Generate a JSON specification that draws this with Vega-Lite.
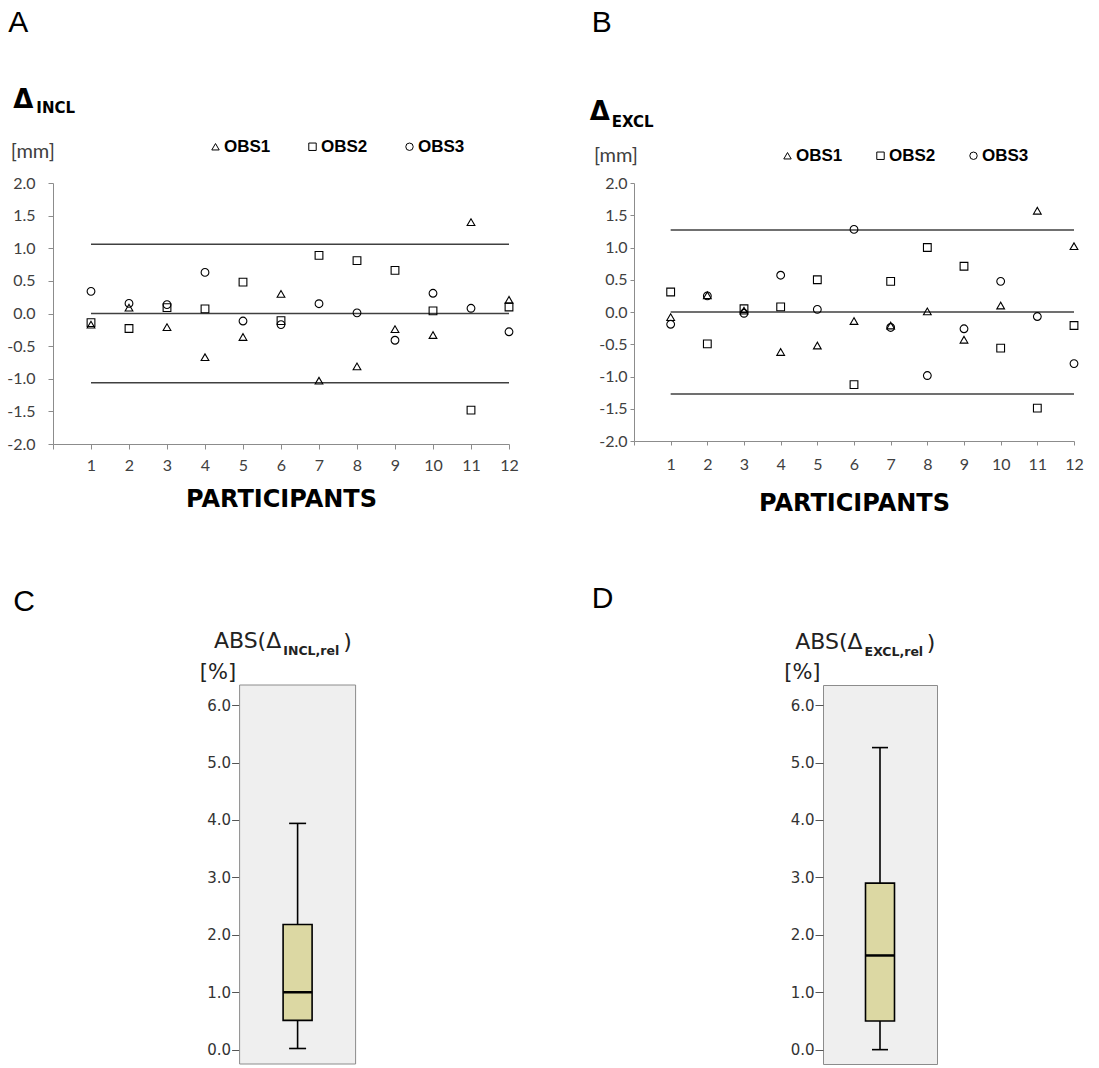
{
  "$schema": "https://vega.github.io/schema/vega-lite/v6.json",
  "background": "white",
  "padding": {"left": 6, "top": 7, "right": 0, "bottom": 0},
  "bounds": "full",
  "spacing": 68,
  "resolve": {"scale": {"shape": "independent"}, "legend": {"shape": "independent"}},
  "config": {
    "view": {"stroke": null},
    "axis": {"grid": false, "labelOverlap": false},
    "text": {"font": "Liberation Sans", "color": "black"}
  },
  "datasets": {
    "incl": [
      {"participant": 1, "observer": "OBS1", "delta": -0.17},
      {"participant": 1, "observer": "OBS2", "delta": -0.14},
      {"participant": 1, "observer": "OBS3", "delta": 0.34},
      {"participant": 2, "observer": "OBS1", "delta": 0.09},
      {"participant": 2, "observer": "OBS2", "delta": -0.23},
      {"participant": 2, "observer": "OBS3", "delta": 0.155},
      {"participant": 3, "observer": "OBS1", "delta": -0.21},
      {"participant": 3, "observer": "OBS2", "delta": 0.09},
      {"participant": 3, "observer": "OBS3", "delta": 0.135},
      {"participant": 4, "observer": "OBS1", "delta": -0.67},
      {"participant": 4, "observer": "OBS2", "delta": 0.07},
      {"participant": 4, "observer": "OBS3", "delta": 0.63},
      {"participant": 5, "observer": "OBS1", "delta": -0.36},
      {"participant": 5, "observer": "OBS2", "delta": 0.48},
      {"participant": 5, "observer": "OBS3", "delta": -0.115},
      {"participant": 6, "observer": "OBS1", "delta": 0.3},
      {"participant": 6, "observer": "OBS2", "delta": -0.11},
      {"participant": 6, "observer": "OBS3", "delta": -0.17},
      {"participant": 7, "observer": "OBS1", "delta": -1.03},
      {"participant": 7, "observer": "OBS2", "delta": 0.89},
      {"participant": 7, "observer": "OBS3", "delta": 0.15},
      {"participant": 8, "observer": "OBS1", "delta": -0.81},
      {"participant": 8, "observer": "OBS2", "delta": 0.81},
      {"participant": 8, "observer": "OBS3", "delta": 0.01},
      {"participant": 9, "observer": "OBS1", "delta": -0.24},
      {"participant": 9, "observer": "OBS2", "delta": 0.66},
      {"participant": 9, "observer": "OBS3", "delta": -0.41},
      {"participant": 10, "observer": "OBS1", "delta": -0.33},
      {"participant": 10, "observer": "OBS2", "delta": 0.04},
      {"participant": 10, "observer": "OBS3", "delta": 0.31},
      {"participant": 11, "observer": "OBS1", "delta": 1.4},
      {"participant": 11, "observer": "OBS2", "delta": -1.48},
      {"participant": 11, "observer": "OBS3", "delta": 0.08},
      {"participant": 12, "observer": "OBS1", "delta": 0.21},
      {"participant": 12, "observer": "OBS2", "delta": 0.1},
      {"participant": 12, "observer": "OBS3", "delta": -0.28}
    ],
    "excl": [
      {"participant": 1, "observer": "OBS1", "delta": -0.08},
      {"participant": 1, "observer": "OBS2", "delta": 0.31},
      {"participant": 1, "observer": "OBS3", "delta": -0.19},
      {"participant": 2, "observer": "OBS1", "delta": 0.26},
      {"participant": 2, "observer": "OBS2", "delta": -0.495},
      {"participant": 2, "observer": "OBS3", "delta": 0.25},
      {"participant": 3, "observer": "OBS1", "delta": 0.02},
      {"participant": 3, "observer": "OBS2", "delta": 0.05},
      {"participant": 3, "observer": "OBS3", "delta": -0.02},
      {"participant": 4, "observer": "OBS1", "delta": -0.62},
      {"participant": 4, "observer": "OBS2", "delta": 0.08},
      {"participant": 4, "observer": "OBS3", "delta": 0.57},
      {"participant": 5, "observer": "OBS1", "delta": -0.52},
      {"participant": 5, "observer": "OBS2", "delta": 0.5},
      {"participant": 5, "observer": "OBS3", "delta": 0.04},
      {"participant": 6, "observer": "OBS1", "delta": -0.14},
      {"participant": 6, "observer": "OBS2", "delta": -1.125},
      {"participant": 6, "observer": "OBS3", "delta": 1.28},
      {"participant": 7, "observer": "OBS1", "delta": -0.21},
      {"participant": 7, "observer": "OBS2", "delta": 0.475},
      {"participant": 7, "observer": "OBS3", "delta": -0.24},
      {"participant": 8, "observer": "OBS1", "delta": 0.01},
      {"participant": 8, "observer": "OBS2", "delta": 1.0},
      {"participant": 8, "observer": "OBS3", "delta": -0.985},
      {"participant": 9, "observer": "OBS1", "delta": -0.43},
      {"participant": 9, "observer": "OBS2", "delta": 0.71},
      {"participant": 9, "observer": "OBS3", "delta": -0.26},
      {"participant": 10, "observer": "OBS1", "delta": 0.1},
      {"participant": 10, "observer": "OBS2", "delta": -0.56},
      {"participant": 10, "observer": "OBS3", "delta": 0.475},
      {"participant": 11, "observer": "OBS1", "delta": 1.57},
      {"participant": 11, "observer": "OBS2", "delta": -1.49},
      {"participant": 11, "observer": "OBS3", "delta": -0.07},
      {"participant": 12, "observer": "OBS1", "delta": 1.02},
      {"participant": 12, "observer": "OBS2", "delta": -0.21},
      {"participant": 12, "observer": "OBS3", "delta": -0.8}
    ],
    "loa_incl": [{"limit": 1.06}, {"limit": 0}, {"limit": -1.06}],
    "loa_excl": [{"limit": 1.27}, {"limit": 0}, {"limit": -1.27}],
    "box_incl": [{"min": 0.02, "q1": 0.51, "median": 1.0, "q3": 2.18, "max": 3.94}],
    "box_excl": [{"min": 0.0, "q1": 0.5, "median": 1.64, "q3": 2.9, "max": 5.26}]
  },
  "vconcat": [
    {
      "spacing": 70,
      "resolve": {"scale": {"shape": "independent"}, "legend": {"shape": "independent"}},
      "hconcat": [
        {
          "width": 456,
          "height": 261,
          "layer": [
            {
              "data": {"name": "loa_incl"},
              "mark": {"type": "rule", "color": "#404040", "strokeWidth": 1.5},
              "encoding": {
                "x": {
                  "datum": 1, "type": "quantitative",
                  "scale": {"domain": [0, 12], "nice": false, "zero": false},
                  "axis": {
                    "tickCount": 12,
                    "labelExpr": "datum.value == 0 ? '' : datum.label", "labelOverlap": false,
                    "labelFlush": false, "labelFont": "Lato", "labelFontSize": 16, "labelColor": "#404040",
                    "labelPadding": 8, "tickSize": 5, "tickColor": "#8c8c8c", "domainColor": "#8c8c8c",
                    "title": "PARTICIPANTS", "titleFont": "DejaVu Sans", "titleFontSize": 24, "titleFontWeight": "bold",
                    "titleColor": "black", "titlePadding": 14
                  }
                },
                "x2": {"datum": 12},
                "y": {
                  "field": "limit", "type": "quantitative",
                  "scale": {"domain": [-2, 2], "nice": false, "zero": false},
                  "axis": {
                    "tickCount": 8, "format": ".1f", "labelExpr": "replace(datum.label, '−', '-')", "labelOverlap": false,
                    "labelFont": "Lato", "labelFontSize": 16, "labelColor": "#404040", "labelPadding": 13,
                    "tickSize": 5, "tickColor": "#8c8c8c", "domainColor": "#8c8c8c",
                    "title": "[mm]", "titleAngle": 0, "titleAlign": "left", "titleBaseline": "middle",
                    "titleX": -42.7, "titleY": -32, "titleFont": "Lato", "titleFontSize": 20,
                    "titleFontWeight": "normal", "titleColor": "#404040"
                  }
                }
              }
            },
            {
              "data": {"name": "incl"},
              "mark": {"type": "point", "filled": false, "color": "black", "opacity": 1, "size": 60, "strokeWidth": 1.1},
              "encoding": {
                "x": {"field": "participant", "type": "quantitative", "scale": {"domain": [0, 12], "nice": false, "zero": false}},
                "y": {"field": "delta", "type": "quantitative", "scale": {"domain": [-2, 2], "nice": false, "zero": false}},
                "shape": {
                  "field": "observer", "type": "nominal",
                  "scale": {"domain": ["OBS1", "OBS2", "OBS3"], "range": ["triangle-up", "square", "circle"]},
                  "legend": {
                    "orient": "none", "legendX": 154, "legendY": -45, "direction": "horizontal", "columns": 3,
                    "title": null, "padding": 0, "labelFont": "Liberation Sans", "labelFontSize": 17,
                    "labelFontWeight": "bold", "labelColor": "black", "labelOffset": 0, "columnPadding": 33,
                    "symbolSize": 55, "symbolStrokeWidth": 1, "symbolStrokeColor": "black", "symbolFillColor": "transparent"
                  }
                }
              }
            },
            {
              "data": {"values": [{}]},
              "mark": {"type": "text", "text": "A", "font": "Liberation Sans", "fontSize": 30, "align": "left", "baseline": "alphabetic"},
              "encoding": {
                "x": {"datum": -1.176, "type": "quantitative", "scale": {"domain": [0, 12], "nice": false, "zero": false}},
                "y": {"datum": 4.314, "type": "quantitative", "scale": {"domain": [-2, 2], "nice": false, "zero": false}}
              }
            },
            {
              "data": {"values": [{}]},
              "mark": {"type": "text", "text": "Δ", "font": "DejaVu Sans", "fontWeight": "bold", "fontSize": 26, "align": "left", "baseline": "alphabetic"},
              "encoding": {
                "x": {"datum": -1.045, "type": "quantitative", "scale": {"domain": [0, 12], "nice": false, "zero": false}},
                "y": {"datum": 3.149, "type": "quantitative", "scale": {"domain": [-2, 2], "nice": false, "zero": false}}
              }
            },
            {
              "data": {"values": [{}]},
              "mark": {"type": "text", "text": "INCL", "font": "DejaVu Sans", "fontWeight": "bold", "fontSize": 15, "align": "left", "baseline": "alphabetic"},
              "encoding": {
                "x": {"datum": -0.439, "type": "quantitative", "scale": {"domain": [0, 12], "nice": false, "zero": false}},
                "y": {"datum": 3.073, "type": "quantitative", "scale": {"domain": [-2, 2], "nice": false, "zero": false}}
              }
            }
          ]
        },
        {
          "width": 440,
          "height": 258,
          "layer": [
            {
              "data": {"name": "loa_excl"},
              "mark": {"type": "rule", "color": "#404040", "strokeWidth": 1.5},
              "encoding": {
                "x": {
                  "datum": 1, "type": "quantitative",
                  "scale": {"domain": [0, 12], "nice": false, "zero": false},
                  "axis": {
                    "tickCount": 12,
                    "labelExpr": "datum.value == 0 ? '' : datum.label", "labelOverlap": false,
                    "labelFlush": false, "labelFont": "Lato", "labelFontSize": 16, "labelColor": "#404040",
                    "labelPadding": 11, "tickSize": 4, "tickColor": "#8c8c8c", "domainColor": "#8c8c8c",
                    "title": "PARTICIPANTS", "titleFont": "DejaVu Sans", "titleFontSize": 24, "titleFontWeight": "bold",
                    "titleColor": "black", "titlePadding": 19
                  }
                },
                "x2": {"datum": 12},
                "y": {
                  "field": "limit", "type": "quantitative",
                  "scale": {"domain": [-2, 2], "nice": false, "zero": false},
                  "axis": {
                    "tickCount": 8, "format": ".1f", "labelExpr": "replace(datum.label, '−', '-')", "labelOverlap": false,
                    "labelFont": "Lato", "labelFontSize": 16, "labelColor": "#404040", "labelPadding": 3,
                    "tickSize": 4, "tickColor": "#8c8c8c", "domainColor": "#8c8c8c",
                    "title": "[mm]", "titleAngle": 0, "titleAlign": "left", "titleBaseline": "middle",
                    "titleX": -40.6, "titleY": -28, "titleFont": "Lato", "titleFontSize": 20,
                    "titleFontWeight": "normal", "titleColor": "#404040"
                  }
                }
              }
            },
            {
              "data": {"name": "excl"},
              "mark": {"type": "point", "filled": false, "color": "black", "opacity": 1, "size": 60, "strokeWidth": 1.1},
              "encoding": {
                "x": {"field": "participant", "type": "quantitative", "scale": {"domain": [0, 12], "nice": false, "zero": false}},
                "y": {"field": "delta", "type": "quantitative", "scale": {"domain": [-2, 2], "nice": false, "zero": false}},
                "shape": {
                  "field": "observer", "type": "nominal",
                  "scale": {"domain": ["OBS1", "OBS2", "OBS3"], "range": ["triangle-up", "square", "circle"]},
                  "legend": {
                    "orient": "none", "legendX": 145, "legendY": -36, "direction": "horizontal", "columns": 3,
                    "title": null, "padding": 0, "labelFont": "Liberation Sans", "labelFontSize": 17,
                    "labelFontWeight": "bold", "labelColor": "black", "labelOffset": 0, "columnPadding": 29,
                    "symbolSize": 55, "symbolStrokeWidth": 1, "symbolStrokeColor": "black", "symbolFillColor": "transparent"
                  }
                }
              }
            },
            {
              "data": {"values": [{}]},
              "mark": {"type": "text", "text": "B", "font": "Liberation Sans", "fontSize": 30, "align": "left", "baseline": "alphabetic"},
              "encoding": {
                "x": {"datum": -1.154, "type": "quantitative", "scale": {"domain": [0, 12], "nice": false, "zero": false}},
                "y": {"datum": 4.345, "type": "quantitative", "scale": {"domain": [-2, 2], "nice": false, "zero": false}}
              }
            },
            {
              "data": {"values": [{}]},
              "mark": {"type": "text", "text": "Δ", "font": "DejaVu Sans", "fontWeight": "bold", "fontSize": 26, "align": "left", "baseline": "alphabetic"},
              "encoding": {
                "x": {"datum": -1.208, "type": "quantitative", "scale": {"domain": [0, 12], "nice": false, "zero": false}},
                "y": {"datum": 2.974, "type": "quantitative", "scale": {"domain": [-2, 2], "nice": false, "zero": false}}
              }
            },
            {
              "data": {"values": [{}]},
              "mark": {"type": "text", "text": "EXCL", "font": "DejaVu Sans", "fontWeight": "bold", "fontSize": 15, "align": "left", "baseline": "alphabetic"},
              "encoding": {
                "x": {"datum": -0.608, "type": "quantitative", "scale": {"domain": [0, 12], "nice": false, "zero": false}},
                "y": {"datum": 2.865, "type": "quantitative", "scale": {"domain": [-2, 2], "nice": false, "zero": false}}
              }
            }
          ]
        }
      ]
    },
    {
      "spacing": 234,
      "hconcat": [
        {
          "width": 302.6,
          "height": 379,
          "layer": [
            {
              "data": {"values": [{}]},
              "mark": {"type": "rect", "fill": "#efefef", "stroke": "#8c8c8c", "strokeWidth": 1},
              "encoding": {
                "x": {"datum": 0, "type": "quantitative", "scale": {"domain": [-1.6086, 1], "nice": false, "zero": false, "padding": 0}, "axis": null},
                "x2": {"datum": 1},
                "y": {
                  "datum": -0.25, "type": "quantitative",
                  "scale": {"domain": [-0.25, 6.35], "nice": false, "zero": false},
                  "axis": {
                    "offset": -186.6,
                    "tickCount": 7, "format": ".1f", "domain": false, "labelOverlap": false,
                    "tickSize": 8, "tickColor": "#555555", "labelFont": "DejaVu Sans", "labelFontSize": 15,
                    "labelColor": "#333333", "labelPadding": 1,
                    "title": "[%]", "titleAngle": 0, "titleAlign": "left", "titleBaseline": "middle",
                    "titleX": -40.3, "titleY": -12.7, "titleFont": "DejaVu Sans", "titleFontSize": 21,
                    "titleFontWeight": "normal", "titleColor": "#222222"
                  }
                },
                "y2": {"datum": 6.35}
              }
            },
            {
              "data": {"name": "box_incl"},
              "mark": {"type": "rule", "color": "black", "strokeWidth": 1.6},
              "encoding": {
                "x": {"datum": 0.5, "type": "quantitative", "scale": {"domain": [-1.6086, 1], "nice": false, "zero": false, "padding": 0}},
                "y": {"field": "min", "type": "quantitative", "scale": {"domain": [-0.25, 6.35], "nice": false, "zero": false}},
                "y2": {"field": "max"}
              }
            },
            {
              "data": {"name": "box_incl"},
              "mark": {"type": "bar", "width": 29, "fill": "#dcd8a3", "stroke": "black", "strokeWidth": 1.6},
              "encoding": {
                "x": {"datum": 0.5, "type": "quantitative", "scale": {"domain": [-1.6086, 1], "nice": false, "zero": false, "padding": 0}},
                "y": {"field": "q1", "type": "quantitative", "scale": {"domain": [-0.25, 6.35], "nice": false, "zero": false}},
                "y2": {"field": "q3"}
              }
            },
            {
              "data": {"name": "box_incl"},
              "mark": {"type": "tick", "orient": "horizontal", "size": 29, "thickness": 2.5, "color": "black", "opacity": 1},
              "encoding": {
                "x": {"datum": 0.5, "type": "quantitative", "scale": {"domain": [-1.6086, 1], "nice": false, "zero": false, "padding": 0}},
                "y": {"field": "median", "type": "quantitative", "scale": {"domain": [-0.25, 6.35], "nice": false, "zero": false}}
              }
            },
            {
              "data": {"name": "box_incl"},
              "mark": {"type": "tick", "orient": "horizontal", "size": 17, "thickness": 1.6, "color": "black", "opacity": 1},
              "encoding": {
                "x": {"datum": 0.5, "type": "quantitative", "scale": {"domain": [-1.6086, 1], "nice": false, "zero": false, "padding": 0}},
                "y": {"field": "min", "type": "quantitative", "scale": {"domain": [-0.25, 6.35], "nice": false, "zero": false}}
              }
            },
            {
              "data": {"name": "box_incl"},
              "mark": {"type": "tick", "orient": "horizontal", "size": 17, "thickness": 1.6, "color": "black", "opacity": 1},
              "encoding": {
                "x": {"datum": 0.5, "type": "quantitative", "scale": {"domain": [-1.6086, 1], "nice": false, "zero": false, "padding": 0}},
                "y": {"field": "max", "type": "quantitative", "scale": {"domain": [-0.25, 6.35], "nice": false, "zero": false}}
              }
            },
            {
              "data": {"values": [{}]},
              "mark": {"type": "text", "text": "C", "font": "Liberation Sans", "fontSize": 30, "align": "left", "baseline": "alphabetic"},
              "encoding": {
                "x": {"datum": -1.951, "type": "quantitative", "scale": {"domain": [-1.6086, 1], "nice": false, "zero": false, "padding": 0}},
                "y": {"datum": 7.633, "type": "quantitative", "scale": {"domain": [-0.25, 6.35], "nice": false, "zero": false}}
              }
            },
            {
              "data": {"values": [{}]},
              "mark": {"type": "text", "text": "ABS(Δ", "font": "DejaVu Sans", "fontSize": 22, "color": "#222222", "align": "right", "baseline": "alphabetic"},
              "encoding": {
                "x": {"datum": 0.359, "type": "quantitative", "scale": {"domain": [-1.6086, 1], "nice": false, "zero": false, "padding": 0}},
                "y": {"datum": 6.989, "type": "quantitative", "scale": {"domain": [-0.25, 6.35], "nice": false, "zero": false}}
              }
            },
            {
              "data": {"values": [{}]},
              "mark": {"type": "text", "text": "INCL,rel", "font": "DejaVu Sans", "fontWeight": "bold", "fontSize": 12.5, "color": "#222222", "align": "left", "baseline": "alphabetic"},
              "encoding": {
                "x": {"datum": 0.377, "type": "quantitative", "scale": {"domain": [-1.6086, 1], "nice": false, "zero": false, "padding": 0}},
                "y": {"datum": 6.867, "type": "quantitative", "scale": {"domain": [-0.25, 6.35], "nice": false, "zero": false}}
              }
            },
            {
              "data": {"values": [{}]},
              "mark": {"type": "text", "text": ")", "font": "DejaVu Sans", "fontSize": 22, "color": "#222222", "align": "left", "baseline": "alphabetic"},
              "encoding": {
                "x": {"datum": 0.894, "type": "quantitative", "scale": {"domain": [-1.6086, 1], "nice": false, "zero": false, "padding": 0}},
                "y": {"datum": 6.972, "type": "quantitative", "scale": {"domain": [-0.25, 6.35], "nice": false, "zero": false}}
              }
            }
          ]
        },
        {
          "width": 114,
          "height": 379,
          "view": {"fill": "#efefef", "stroke": "#8c8c8c", "strokeWidth": 1},
          "layer": [
            {
              "data": {"name": "box_excl"},
              "mark": {"type": "rule", "color": "black", "strokeWidth": 1.6},
              "encoding": {
                "x": {"datum": 0.5, "type": "quantitative", "scale": {"domain": [0, 1], "nice": false, "zero": false, "padding": 0}, "axis": null},
                "y": {
                  "field": "min", "type": "quantitative",
                  "scale": {"domain": [-0.25, 6.35], "nice": false, "zero": false},
                  "axis": {
                    "tickCount": 7, "format": ".1f", "domain": false, "labelOverlap": false,
                    "tickSize": 8, "tickColor": "#555555", "labelFont": "DejaVu Sans", "labelFontSize": 15,
                    "labelColor": "#333333", "labelPadding": 1,
                    "title": "[%]", "titleAngle": 0, "titleAlign": "left", "titleBaseline": "middle",
                    "titleX": -39.3, "titleY": -12.2, "titleFont": "DejaVu Sans", "titleFontSize": 21,
                    "titleFontWeight": "normal", "titleColor": "#222222"
                  }
                },
                "y2": {"field": "max"}
              }
            },
            {
              "data": {"name": "box_excl"},
              "mark": {"type": "bar", "width": 29, "fill": "#dcd8a3", "stroke": "black", "strokeWidth": 1.6},
              "encoding": {
                "x": {"datum": 0.5, "type": "quantitative", "scale": {"domain": [0, 1], "nice": false, "zero": false, "padding": 0}},
                "y": {"field": "q1", "type": "quantitative", "scale": {"domain": [-0.25, 6.35], "nice": false, "zero": false}},
                "y2": {"field": "q3"}
              }
            },
            {
              "data": {"name": "box_excl"},
              "mark": {"type": "tick", "orient": "horizontal", "size": 29, "thickness": 2.5, "color": "black", "opacity": 1},
              "encoding": {
                "x": {"datum": 0.5, "type": "quantitative", "scale": {"domain": [0, 1], "nice": false, "zero": false, "padding": 0}},
                "y": {"field": "median", "type": "quantitative", "scale": {"domain": [-0.25, 6.35], "nice": false, "zero": false}}
              }
            },
            {
              "data": {"name": "box_excl"},
              "mark": {"type": "tick", "orient": "horizontal", "size": 16, "thickness": 1.6, "color": "black", "opacity": 1},
              "encoding": {
                "x": {"datum": 0.5, "type": "quantitative", "scale": {"domain": [0, 1], "nice": false, "zero": false, "padding": 0}},
                "y": {"field": "min", "type": "quantitative", "scale": {"domain": [-0.25, 6.35], "nice": false, "zero": false}}
              }
            },
            {
              "data": {"name": "box_excl"},
              "mark": {"type": "tick", "orient": "horizontal", "size": 16, "thickness": 1.6, "color": "black", "opacity": 1},
              "encoding": {
                "x": {"datum": 0.5, "type": "quantitative", "scale": {"domain": [0, 1], "nice": false, "zero": false, "padding": 0}},
                "y": {"field": "max", "type": "quantitative", "scale": {"domain": [-0.25, 6.35], "nice": false, "zero": false}}
              }
            },
            {
              "data": {"values": [{}]},
              "mark": {"type": "text", "text": "D", "font": "Liberation Sans", "fontSize": 30, "align": "left", "baseline": "alphabetic"},
              "encoding": {
                "x": {"datum": -2.029, "type": "quantitative", "scale": {"domain": [0, 1], "nice": false, "zero": false, "padding": 0}},
                "y": {"datum": 7.686, "type": "quantitative", "scale": {"domain": [-0.25, 6.35], "nice": false, "zero": false}}
              }
            },
            {
              "data": {"values": [{}]},
              "mark": {"type": "text", "text": "ABS(Δ", "font": "DejaVu Sans", "fontSize": 22, "color": "#222222", "align": "right", "baseline": "alphabetic"},
              "encoding": {
                "x": {"datum": 0.348, "type": "quantitative", "scale": {"domain": [0, 1], "nice": false, "zero": false, "padding": 0}},
                "y": {"datum": 6.972, "type": "quantitative", "scale": {"domain": [-0.25, 6.35], "nice": false, "zero": false}}
              }
            },
            {
              "data": {"values": [{}]},
              "mark": {"type": "text", "text": "EXCL,rel", "font": "DejaVu Sans", "fontWeight": "bold", "fontSize": 12.5, "color": "#222222", "align": "left", "baseline": "alphabetic"},
              "encoding": {
                "x": {"datum": 0.365, "type": "quantitative", "scale": {"domain": [0, 1], "nice": false, "zero": false, "padding": 0}},
                "y": {"datum": 6.85, "type": "quantitative", "scale": {"domain": [-0.25, 6.35], "nice": false, "zero": false}}
              }
            },
            {
              "data": {"values": [{}]},
              "mark": {"type": "text", "text": ")", "font": "DejaVu Sans", "fontSize": 22, "color": "#222222", "align": "left", "baseline": "alphabetic"},
              "encoding": {
                "x": {"datum": 0.91, "type": "quantitative", "scale": {"domain": [0, 1], "nice": false, "zero": false, "padding": 0}},
                "y": {"datum": 6.954, "type": "quantitative", "scale": {"domain": [-0.25, 6.35], "nice": false, "zero": false}}
              }
            }
          ]
        }
      ]
    }
  ]
}
